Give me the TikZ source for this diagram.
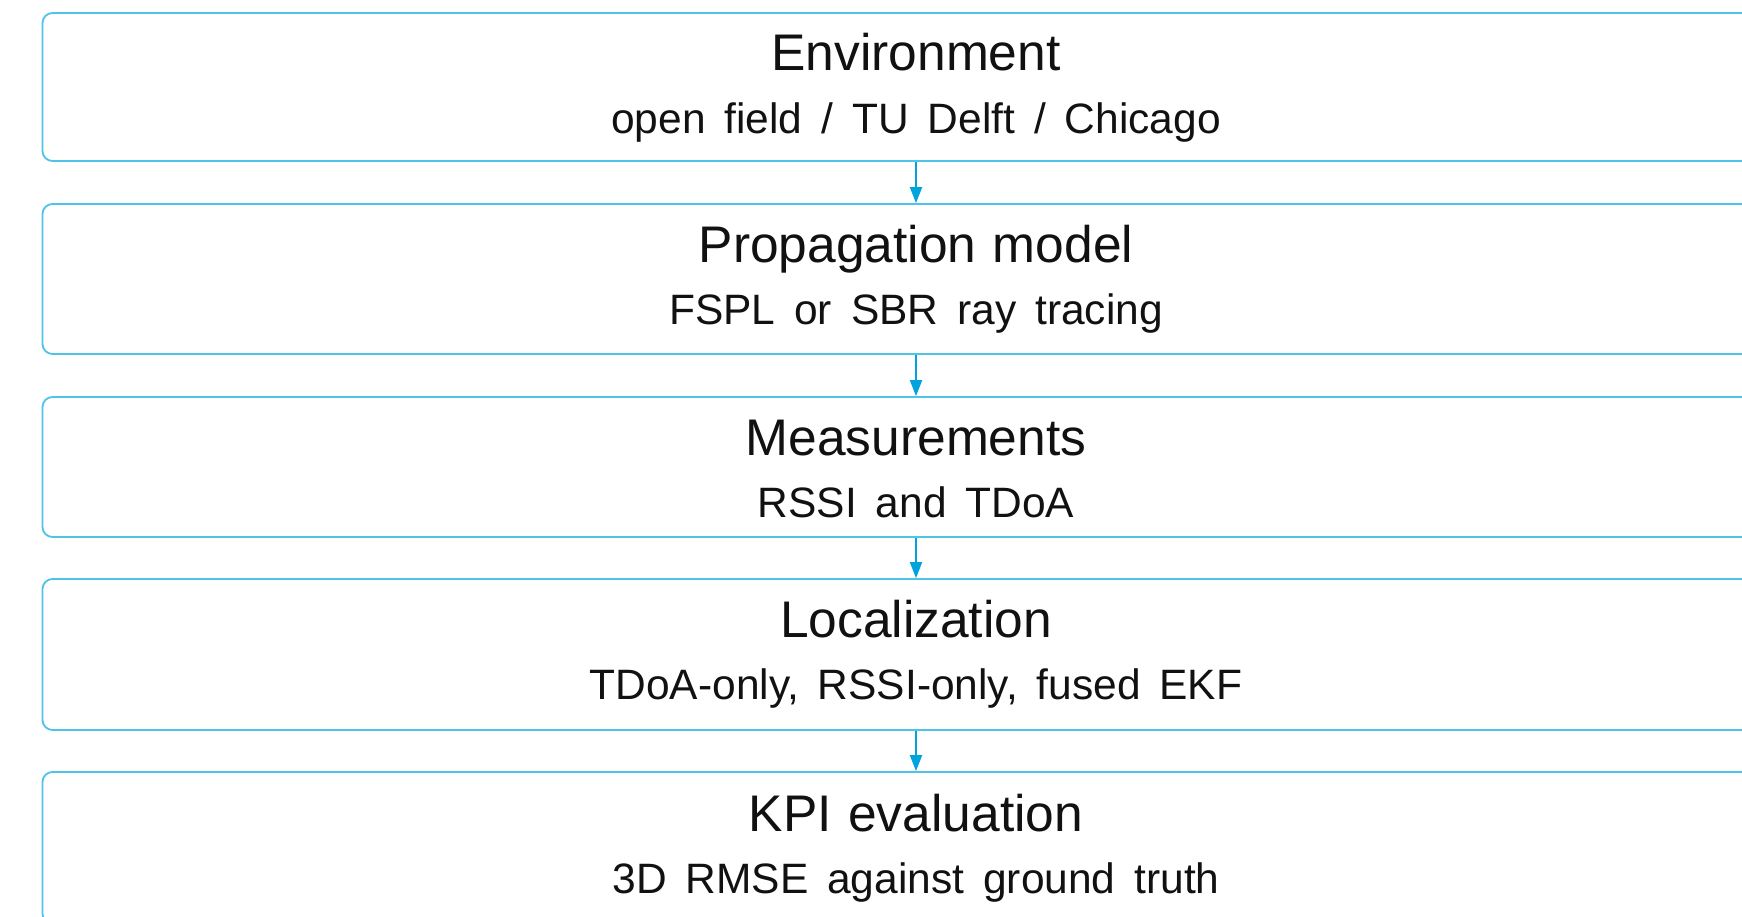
\documentclass[tikz,border=0pt]{standalone}
\usepackage{fontspec}
\setmainfont{Liberation Sans}[WordSpace=1.6]
\newfontfamily\stagetitlefont{Liberation Sans}[WordSpace=1.15]
\usetikzlibrary{arrows.meta}
\definecolor{boxblue}{RGB}{80,195,232}
\definecolor{arrblue}{RGB}{0,163,220}
\definecolor{txt}{RGB}{17,17,17}
\tikzset{
  stagebox/.style={draw=boxblue, line width=1.8pt, rounded corners=10pt,
    minimum width=1747pt, inner sep=0pt, fill=none},
  titletext/.style={anchor=base, inner sep=0pt, text=txt,
    font=\stagetitlefont\fontsize{51.5}{60}\selectfont},
  subtext/.style={anchor=base, inner sep=0pt, text=txt,
    font=\fontsize{42.5}{50}\selectfont},
  flow/.style={draw=arrblue, line width=2pt,
    -{Triangle[width=12pt,length=16pt]}}
}
\begin{document}
\begin{tikzpicture}[x=1pt,y=-1pt]
\useasboundingbox (0,0) rectangle (1742,916);
\clip (0,0) rectangle (1742,916);
\fill[white] (0,0) rectangle (1742,916);
% boxes
\node[stagebox, minimum height=148pt] (b1) at (916,87) {};
\node[stagebox, minimum height=150pt] (b2) at (916,279) {};
\node[stagebox, minimum height=140pt] (b3) at (916,467) {};
\node[stagebox, minimum height=151pt] (b4) at (916,654.5) {};
\node[stagebox, minimum height=152pt] (b5) at (916,848) {};
% texts
\node[titletext] (t1) at (916,70.5) {Environment};
\node[subtext] (s1) at (916,133) {open field / TU Delft / Chicago};
\node[titletext] (t2) at (916,262.5) {Propagation model};
\node[subtext] (s2) at (916,324) {FSPL or SBR ray tracing};
\node[titletext] (t3) at (916,455) {Measurements};
\node[subtext] (s3) at (916,517.5) {RSSI and TDoA};
\node[titletext] (t4) at (916,637.5) {Localization};
\node[subtext] (s4) at (916,699.5) {TDoA-only, RSSI-only, fused EKF};
\node[titletext] (t5) at (916,831) {KPI evaluation};
\node[subtext] (s5) at (916,893) {3D RMSE against ground truth};
% arrows
\draw[flow] (b1.south) -- (b2.north);
\draw[flow] (b2.south) -- (b3.north);
\draw[flow] (b3.south) -- (b4.north);
\draw[flow] (b4.south) -- (b5.north);
\end{tikzpicture}
\end{document}
